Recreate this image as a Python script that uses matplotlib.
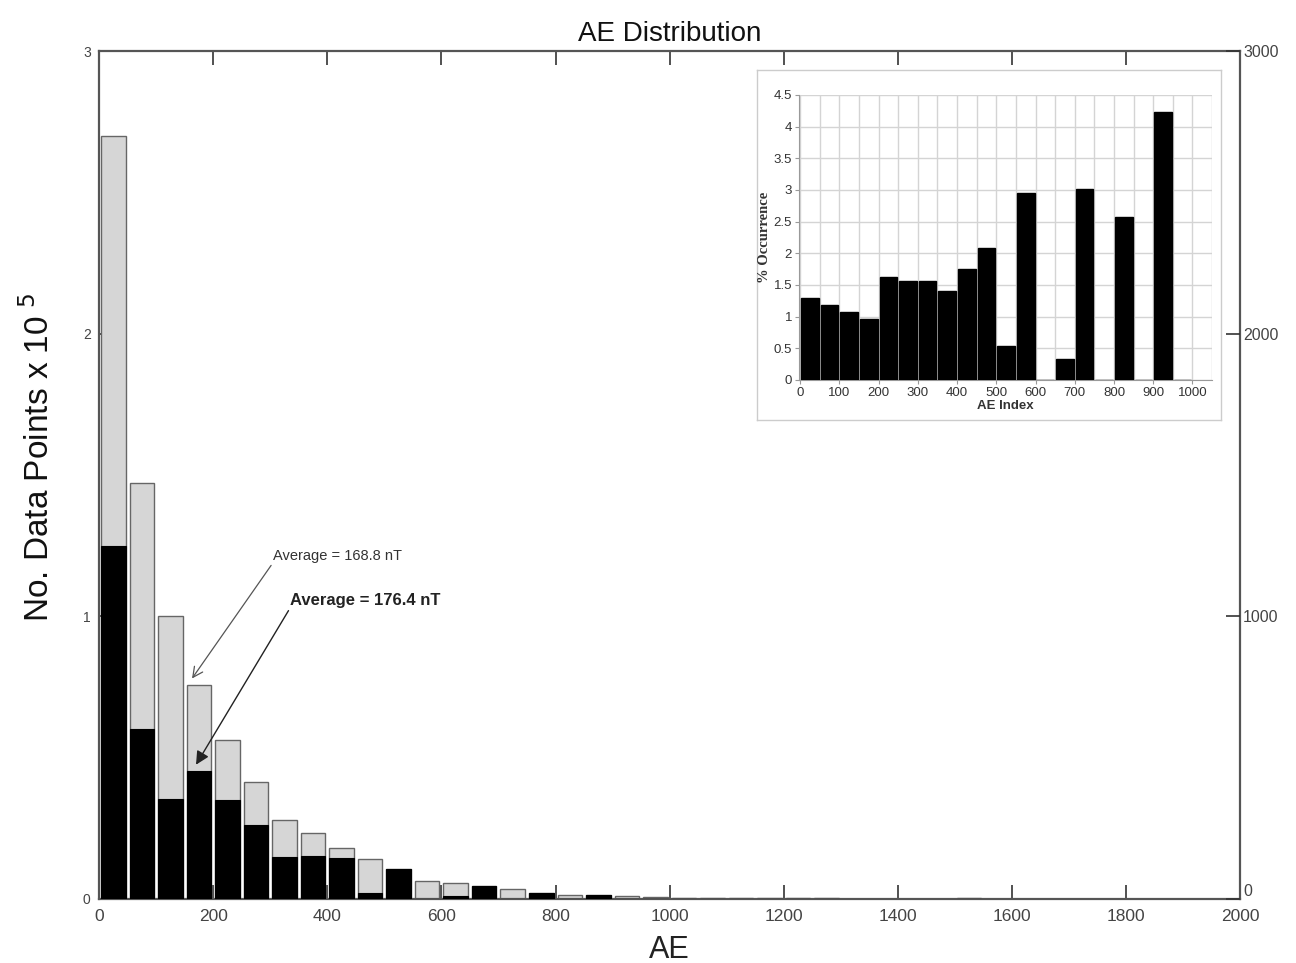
import numpy as np
import matplotlib.pyplot as plt
import matplotlib.ticker as mticker

# main histogram: 50 nT bins, counts x 10^5
bin_left = [0, 50, 100, 150, 200, 250, 300, 350, 400, 450,
            500, 550, 600, 650, 700, 750, 800, 850, 900, 950,
            1000, 1050, 1100, 1150, 1200, 1250, 1500]
gray_counts = [2.70, 1.47, 1.00, 0.757, 0.562, 0.414, 0.280, 0.234, 0.180, 0.141,
               0.106, 0.064, 0.057, 0.046, 0.035, 0.021, 0.014, 0.014, 0.010, 0.008,
               0.003, 0.003, 0.003, 0.003, 0.003, 0.003, 0.003]
black_counts = [1.25, 0.600, 0.354, 0.453, 0.350, 0.262, 0.148, 0.152, 0.145, 0.020,
                0.106, 0.0, 0.010, 0.046, 0.0, 0.021, 0.0, 0.014, 0.0, 0.0,
                0.0, 0.0, 0.0, 0.0, 0.0, 0.0, 0.0]

# inset: % occurrence per AE bin
inset_left = [0, 50, 100, 150, 200, 250, 300, 350, 400, 450,
              500, 550, 600, 650, 700, 750, 800, 850, 900, 950]
inset_pct = [1.30, 1.19, 1.07, 0.96, 1.62, 1.57, 1.57, 1.41, 1.76, 2.09,
             0.53, 2.96, 0.0, 0.33, 3.02, 0.0, 2.58, 0.0, 4.23, 0.0]

plt.rcParams['font.family'] = ['Liberation Sans', 'DejaVu Sans']

fig = plt.figure(figsize=(12.96, 9.63), dpi=100)
ax = fig.add_axes([0.0764, 0.0665, 0.8806, 0.8805])

centers = np.array(bin_left) + 25
ax.bar(centers, gray_counts, width=43, color='#d6d6d6', edgecolor='#666666', linewidth=1.0, zorder=2)
ax.bar(centers, black_counts, width=43, color='black', edgecolor='black', linewidth=0.8, zorder=3)

ax.set_xlim(0, 2000)
ax.set_ylim(0, 3)
ax.set_xticks(np.arange(0, 2001, 200))
ax.set_yticks([0, 1, 2, 3])
ax.tick_params(direction='in', length=10, width=1.2, color='#333333', top=True,
               labelcolor='#444444')
ax.tick_params(axis='x', labelsize=12.5, pad=7)
ax.tick_params(axis='y', labelsize=10, pad=6)
for s in ax.spines.values():
    s.set_color('#555555')
    s.set_linewidth(1.6)

ax.set_title('AE Distribution', fontsize=20, pad=7, color='#111111')
ax.set_xlabel('AE', fontsize=22, labelpad=8, color='#222222')
ax.set_ylabel(r'No. Data Points x 10$^{\ 5}$', fontsize=24, color='#111111')
ax.yaxis.set_label_coords(-0.038, 0.52)

ax2 = ax.twinx()
ax2.set_ylim(0, 3000)
ax2.set_yticks([0, 1000, 2000, 3000])
ax2.tick_params(direction='in', length=10, width=1.2, color='#333333', labelsize=11.5,
                labelcolor='#444444', pad=2)
for s in ax2.spines.values():
    s.set_visible(False)
# right-axis zero label sits slightly above the x tick labels
ax2.get_yticklabels()[0].set_verticalalignment('bottom')

# arrows with averages
ax.annotate('Average = 168.8 nT', xy=(163, 0.78), xytext=(305, 1.19),
            fontsize=10.5, color='#333333', va='bottom',
            arrowprops=dict(arrowstyle='->', color='#555555', lw=0.9,
                            shrinkA=0, shrinkB=0, mutation_scale=18,
                            relpos=(0, 0)))
ax.annotate('Average = 176.4 nT', xy=(170, 0.475), xytext=(335, 1.03),
            fontsize=12, fontweight='bold', color='#222222', va='bottom',
            arrowprops=dict(arrowstyle='-|>', color='#222222', lw=1.0,
                            shrinkA=0, shrinkB=0, mutation_scale=20,
                            relpos=(0, 0)))

# inset frame
bg = fig.add_axes([0.584, 0.5639, 0.358, 0.3634])
bg.set_xticks([])
bg.set_yticks([])
for s in bg.spines.values():
    s.set_color('#cccccc')
    s.set_linewidth(1.0)

ins = fig.add_axes([0.6165, 0.6054, 0.3187, 0.296])
ins.bar(np.array(inset_left) + 25, inset_pct, width=45, color='black', edgecolor='black', zorder=3)
ins.set_xlim(-3, 1050)
ins.set_ylim(0, 4.5)
ins.set_xticks(np.arange(0, 1001, 100))
ins.set_xticks(np.arange(0, 1051, 50), minor=True)
ins.set_yticks(np.arange(0, 4.51, 0.5))
ins.yaxis.set_major_formatter(mticker.FormatStrFormatter('%g'))
ins.grid(True, which='both', color='#d4d4d4', linewidth=1.0, zorder=0)
ins.set_axisbelow(True)
ins.tick_params(which='both', length=3, color='#999999', labelsize=9.5, labelcolor='#333333', pad=2)
ins.tick_params(which='minor', length=0)
for side in ['top', 'right']:
    ins.spines[side].set_visible(False)
for side in ['left', 'bottom']:
    ins.spines[side].set_color('#999999')
ins.set_xlabel('AE Index', fontsize=9.5, fontweight='bold', labelpad=1, color='#333333')
ins.set_ylabel('% Occurrence', fontsize=10.5, fontweight='bold', labelpad=2,
               family=['Liberation Serif', 'DejaVu Serif'], color='#333333')

fig.savefig('out.png', dpi=100)
